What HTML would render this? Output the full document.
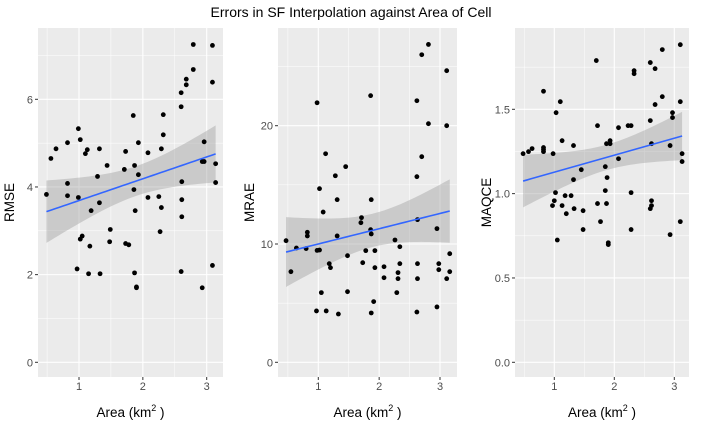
<!DOCTYPE html>
<html><head><meta charset="utf-8"><style>
body{margin:0;background:#fff;font-family:"Liberation Sans",sans-serif}
svg{display:block}
</style></head><body>
<svg id="chart" width="702" height="429" xmlns="http://www.w3.org/2000/svg">
<text x="351" y="17" text-anchor="middle" font-size="14" fill="#000">Errors in SF Interpolation against Area of Cell</text>
</svg>
<script>
const rmseX=[0.49,0.56,0.64,0.82,0.82,0.82,0.99,1.02,0.99,0.97,1.02,1.05,1.10,1.13,1.17,1.15,1.19,1.29,1.32,1.32,1.33,1.44,1.49,1.48,1.73,1.71,1.73,1.78,1.85,1.87,1.86,1.88,1.87,1.90,1.90,1.93,1.93,2.08,2.08,2.25,2.29,2.32,2.32,2.29,2.27,2.60,2.60,2.61,2.61,2.61,2.60,2.68,2.68,2.79,2.79,2.96,2.93,2.96,2.93,3.09,3.09,3.09,3.14,3.14];
const rmseY=[3.83,4.65,4.87,5.01,4.08,3.80,5.33,5.08,3.76,2.13,2.81,2.88,4.76,4.85,2.65,2.02,3.46,4.24,4.87,3.64,2.02,4.49,3.03,2.75,4.81,4.40,2.71,2.68,5.63,4.49,3.94,3.46,2.04,1.72,1.70,5.01,4.28,4.78,3.76,3.78,4.87,5.65,5.19,3.53,2.98,6.15,5.83,4.12,3.71,3.32,2.07,6.46,6.33,6.68,7.25,5.03,4.58,4.58,1.70,7.23,6.39,2.21,4.53,4.10];
const mraeX=[0.47,0.55,0.64,0.80,0.82,0.82,0.98,1.02,0.98,1.02,1.05,0.97,1.08,1.12,1.13,1.18,1.20,1.28,1.31,1.31,1.33,1.45,1.48,1.48,1.71,1.70,1.73,1.78,1.86,1.87,1.86,1.87,1.93,1.93,1.91,1.87,2.08,2.08,2.26,2.34,2.34,2.31,2.31,2.29,2.62,2.62,2.63,2.63,2.63,2.62,2.70,2.70,2.81,2.81,2.95,2.95,2.98,2.98,3.11,3.11,3.11,3.16,3.16];
const mraeY=[10.28,7.66,9.66,9.61,10.99,10.68,21.94,14.68,9.46,9.49,5.89,4.34,12.70,17.63,4.34,8.34,8.0,15.77,13.75,10.68,4.08,16.54,9.01,5.97,12.23,11.80,8.42,9.44,22.54,13.75,11.21,10.85,9.44,8.0,5.13,4.17,8.08,7.15,10.34,9.77,8.34,7.58,7.07,5.89,22.11,15.69,12.06,8.34,7.07,4.25,26.0,17.38,26.87,20.17,11.30,4.68,8.34,7.83,24.65,20.0,7.07,9.18,7.66];
const maqceX=[0.48,0.57,0.63,0.82,0.82,0.82,0.82,0.98,1.03,1.02,1.0,0.97,1.05,1.10,1.13,1.13,1.18,1.20,1.28,1.32,1.32,1.33,1.45,1.48,1.48,1.70,1.72,1.72,1.77,1.85,1.85,1.87,1.88,1.87,1.90,1.90,1.93,1.93,2.07,2.07,2.23,2.28,2.28,2.28,2.33,2.33,2.60,2.60,2.62,2.62,2.62,2.60,2.68,2.68,2.80,2.80,2.93,2.93,2.97,2.97,3.10,3.10,3.10,3.13,3.13];
const maqceY=[1.237,1.249,1.267,1.607,1.273,1.261,1.249,1.237,1.480,1.006,0.958,0.929,0.725,1.545,1.314,0.929,0.988,0.881,0.988,1.285,1.083,0.911,1.142,0.899,0.787,1.789,1.403,0.941,0.834,1.160,1.018,1.296,1.095,0.941,0.709,0.698,1.314,1.296,1.391,1.207,1.403,1.403,1.006,0.787,1.729,1.711,1.777,1.433,1.296,0.958,0.929,0.911,1.741,1.528,1.854,1.575,1.285,0.757,1.480,1.451,1.883,1.545,0.834,1.237,1.190];
const xTicks=[1,2,3];
const rmseTicks=[0,2,4,6];
const mraeTicks=[0,10,20];
const maqceTicks=[0,0.5,1,1.5];
const maqceLabels=["0.0","0.5","1.0","1.5"];

const NS="http://www.w3.org/2000/svg";
const svg=document.getElementById('chart');
function mk(tag,at,parent){const e=document.createElementNS(NS,tag);for(const k in at)e.setAttribute(k,at[k]);(parent||svg).appendChild(e);return e;}

const panels=[
 {name:'rmse',title:'RMSE',xs:rmseX,ys:rmseY,ticks:rmseTicks,labels:rmseTicks.map(String),minor:[1,3,5,7],
  L:38,R:223,x1:79,x3:206.7,y0:362.3,yv:6,yp:99.3},
 {name:'mrae',title:'MRAE',xs:mraeX,ys:mraeY,ticks:mraeTicks,labels:mraeTicks.map(String),minor:[5,15,25],
  L:278,R:457,x1:318.3,x3:440,y0:362.3,yv:20,yp:125.7},
 {name:'maqce',title:'MAQCE',xs:maqceX,ys:maqceY,ticks:maqceTicks,labels:maqceLabels,minor:[0.25,0.75,1.25,1.75],
  L:515,R:689,x1:554.3,x3:674.3,y0:362.3,yv:1.5,yp:109.3}
];
const T=28,B=377;
panels.forEach(p=>{
  const g=mk('g',{});
  
  
  const sx=v=>p.x1+(v-1)*(p.x3-p.x1)/2;
  const sy=v=>p.y0-v*(p.y0-p.yp)/p.yv;
  const bg=mk('rect',{x:p.L,y:T,width:p.R-p.L,height:B-T,fill:'#EBEBEB'},g);
  
  
  [0.5,1.5,2.5].forEach(v=>mk('line',{x1:sx(v),x2:sx(v),y1:T,y2:B,stroke:'#fff','stroke-width':0.5},g));
  p.minor.forEach(v=>mk('line',{x1:p.L,x2:p.R,y1:sy(v),y2:sy(v),stroke:'#fff','stroke-width':0.5},g));
  xTicks.forEach(v=>{
    mk('line',{x1:sx(v),x2:sx(v),y1:T,y2:B,stroke:'#fff','stroke-width':1.1},g);
    mk('line',{x1:sx(v),x2:sx(v),y1:B,y2:B+3,stroke:'#333','stroke-width':1},g);
    const t=mk('text',{x:sx(v),y:B+13,'text-anchor':'middle','font-size':11,fill:'#4D4D4D'},g);
    t.textContent=v;
    
    
  });
  p.ticks.forEach((v,i)=>{
    mk('line',{x1:p.L,x2:p.R,y1:sy(v),y2:sy(v),stroke:'#fff','stroke-width':1.1},g);
    mk('line',{x1:p.L-3,x2:p.L,y1:sy(v),y2:sy(v),stroke:'#333','stroke-width':1},g);
    const t=mk('text',{x:p.L-5,y:sy(v)+4,'text-anchor':'end','font-size':11,fill:'#4D4D4D'},g);
    t.textContent=p.labels[i];
    
    
  });
  // linear fit with 95% CI
  const n=p.xs.length;const mx=p.xs.reduce((a,b)=>a+b)/n;const my=p.ys.reduce((a,b)=>a+b)/n;
  let sxx=0,sxy=0;p.xs.forEach((x,i)=>{sxx+=(x-mx)**2;sxy+=(x-mx)*(p.ys[i]-my);});
  const b=sxy/sxx,a=my-b*mx;let sse=0;p.xs.forEach((x,i)=>{sse+=(p.ys[i]-a-b*x)**2;});
  const s=Math.sqrt(sse/(n-2));const tq=2.0;
  const xmin=Math.min(...p.xs),xmax=Math.max(...p.xs);
  const up=[],lo=[],ln=[];
  for(let k=0;k<=40;k++){const x=xmin+(xmax-xmin)*k/40;const f=a+b*x;const se=s*Math.sqrt(1/n+(x-mx)**2/sxx);
    up.push(sx(x)+','+sy(f+tq*se));lo.unshift(sx(x)+','+sy(f-tq*se));ln.push(sx(x)+','+sy(f));}
  const rib=mk('polygon',{points:up.concat(lo).join(' '),fill:'#999','fill-opacity':0.4},g);
  
  
  p.xs.forEach((x,i)=>{
    const c=mk('circle',{cx:sx(x),cy:sy(p.ys[i]),r:2.4,fill:'#000'},g);
    
    
  });
  const fl=mk('polyline',{points:ln.join(' '),fill:'none',stroke:'#3366FF','stroke-width':1.6},g);
  
  
  const yt=mk('text',{x:0,y:0,'text-anchor':'middle','font-size':13.5,fill:'#000',transform:`translate(${p.L-24},${(T+B)/2}) rotate(-90)`},g);
  yt.textContent=p.title;
  
  
  const xt=mk('text',{x:(p.L+p.R)/2,y:417,'text-anchor':'middle','font-size':13.5,fill:'#000'},g);
  xt.innerHTML='Area (km<tspan font-size="9" dy="-6">2</tspan><tspan dy="6"> )</tspan>';
  
  
});
</script>
</body></html>
